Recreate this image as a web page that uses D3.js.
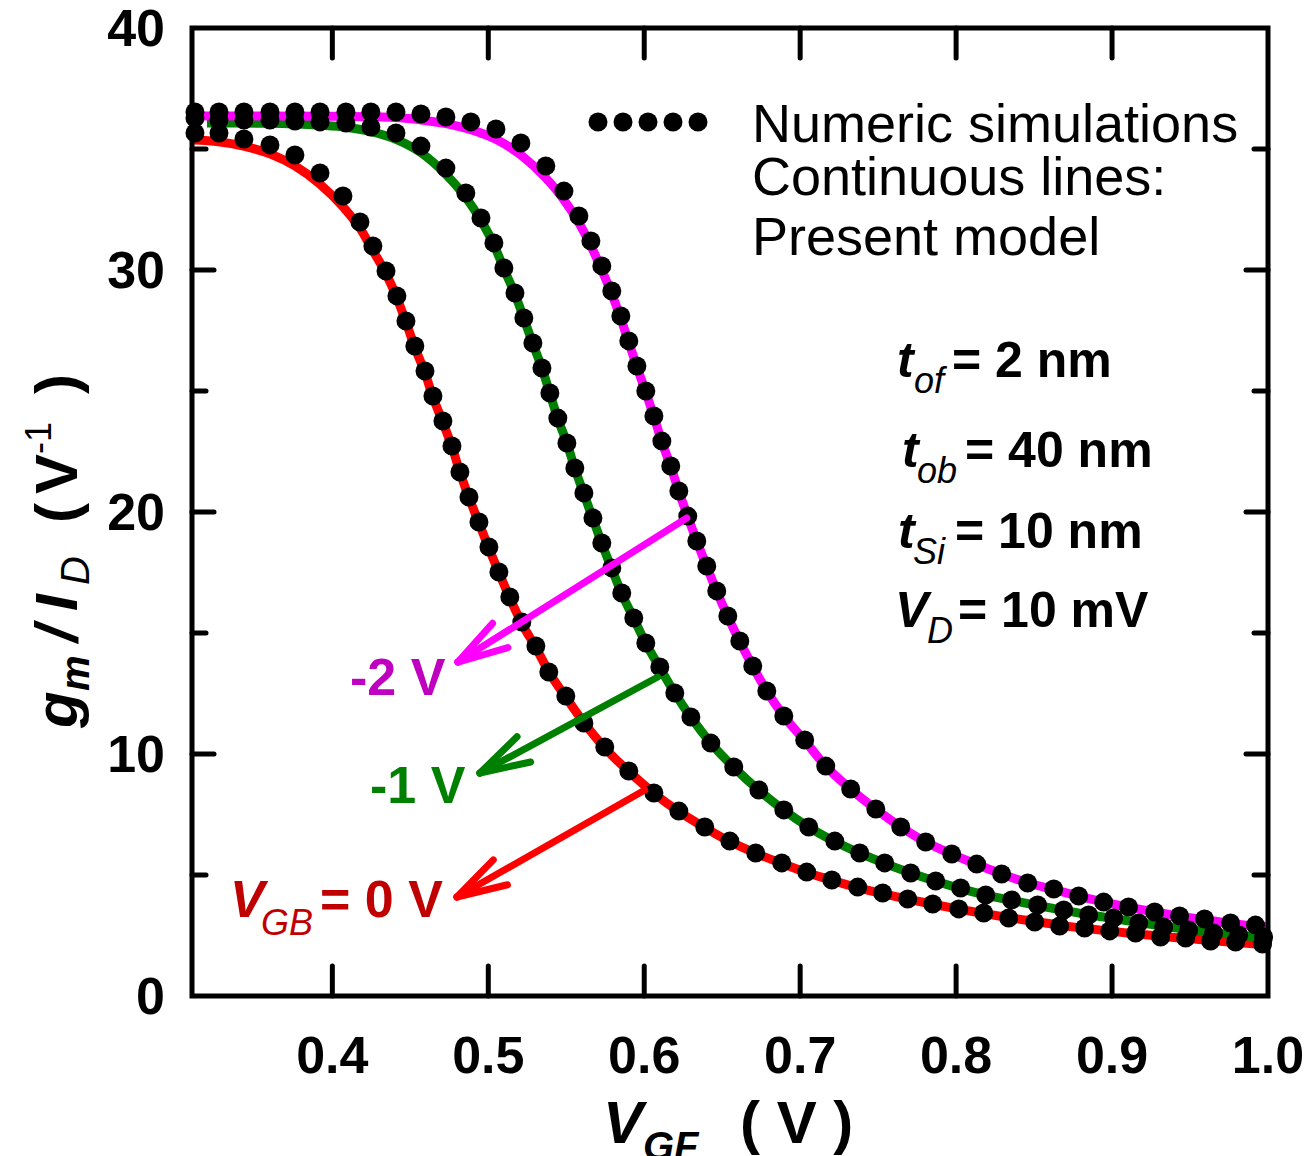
<!DOCTYPE html>
<html>
<head>
<meta charset="utf-8">
<title>gm/ID vs VGF</title>
<style>
  body { margin: 0; background: #fff; }
  text { font-family: "Liberation Sans", Arial, Helvetica, sans-serif; }
</style>
</head>
<body>
<svg width="1308" height="1156"></svg>
<script src="https://d3js.org/d3.v7.min.js"></script>
<script>

// numeric simulation points [VGF (V), gm/ID (1/V)]
var sim0V = [[0.3119,35.66],[0.3273,35.66],[0.3433,35.41],[0.36,35.17],[0.376,34.75],[0.3921,34.01],[0.4068,33.06],
  [0.4177,31.98],[0.426,30.99],[0.4344,29.96],[0.4414,28.93],[0.4472,27.89],[0.4529,26.86],[0.4594,25.83],[0.4645,24.79],
  [0.4709,23.76],[0.4767,22.73],[0.4818,21.65],[0.4876,20.62],[0.494,19.59],[0.5004,18.55],[0.5068,17.52],[0.5138,16.49],
  [0.5215,15.45],[0.5305,14.46],[0.5388,13.39],[0.5497,12.4],[0.5613,11.28],[0.5747,10.29],[0.5901,9.3],[0.6062,8.39],
  [0.6222,7.64],[0.6388,6.98],[0.6549,6.4],[0.6715,5.91],[0.6882,5.5],[0.7042,5.12],[0.7203,4.79],[0.7369,4.5],
  [0.7529,4.26],[0.769,4.01],[0.785,3.8],[0.8017,3.6],[0.8177,3.43],[0.8337,3.22],[0.8504,3.06],[0.8664,2.89],
  [0.8824,2.81],[0.8985,2.69],[0.9151,2.6],[0.9311,2.44],[0.9472,2.4],[0.9632,2.27],[0.9792,2.23],[0.9965,2.15]];

var sim1V = [[0.3119,36.28],[0.3273,36.2],[0.3433,36.2],[0.36,36.2],[0.376,36.16],[0.3921,36.12],[0.4087,36.07],
  [0.4247,35.91],[0.4408,35.66],[0.4568,35.12],[0.4728,34.21],[0.4856,33.18],[0.4953,32.15],[0.5036,31.12],[0.51,30.08],
  [0.5171,29.05],[0.5228,28.02],[0.5286,26.98],[0.5344,25.95],[0.5395,24.92],[0.5446,23.88],[0.5504,22.85],[0.5555,21.82],
  [0.5613,20.79],[0.5671,19.75],[0.5728,18.72],[0.5792,17.69],[0.5856,16.65],[0.5933,15.62],[0.601,14.59],[0.61,13.6],
  [0.6196,12.52],[0.6299,11.53],[0.6427,10.45],[0.6574,9.46],[0.6735,8.51],[0.6895,7.69],[0.7055,6.98],[0.7222,6.4],
  [0.7382,5.91],[0.7542,5.5],[0.7709,5.08],[0.7869,4.75],[0.8029,4.46],[0.819,4.17],[0.8356,3.97],[0.8523,3.76],
  [0.869,3.55],[0.885,3.35],[0.901,3.22],[0.9171,3.02],[0.9331,2.85],[0.9491,2.73],[0.9651,2.6],[0.9812,2.52],[0.9972,2.44]];

var sim2V = [[0.3119,36.53],[0.3273,36.53],[0.3433,36.53],[0.36,36.53],[0.376,36.53],[0.3921,36.53],[0.4087,36.53],
  [0.4247,36.53],[0.4408,36.53],[0.4568,36.45],[0.4728,36.32],[0.4888,36.12],[0.5049,35.83],[0.5209,35.25],[0.5369,34.3],
  [0.5485,33.26],[0.5581,32.23],[0.5658,31.2],[0.5728,30.17],[0.5792,29.13],[0.585,28.1],[0.5901,27.07],[0.5953,26.03],
  [0.601,25.0],[0.6062,23.97],[0.6113,22.93],[0.617,21.9],[0.6222,20.87],[0.6279,19.83],[0.6337,18.8],[0.6401,17.77],
  [0.6465,16.74],[0.6536,15.7],[0.6613,14.67],[0.6696,13.64],[0.6786,12.6],[0.6895,11.57],[0.7029,10.58],[0.7164,9.5],
  [0.7324,8.55],[0.7485,7.73],[0.7645,6.98],[0.7805,6.36],[0.7972,5.87],[0.8132,5.45],[0.8292,5.04],[0.8459,4.67],
  [0.8626,4.42],[0.8786,4.13],[0.8946,3.88],[0.9106,3.68],[0.9273,3.47],[0.9433,3.31],[0.9593,3.18],[0.976,3.02],[0.992,2.93]];

// present model (continuous lines)
var model0V = [[0.311,35.37],[0.327,35.3],[0.343,35.12],[0.36,34.8],[0.376,34.3],[0.392,33.55],[0.407,32.6],[0.418,31.7],
  [0.426,30.8],[0.4344,29.85],[0.4414,28.85],[0.4472,27.85],[0.4529,26.8],[0.4594,25.75],[0.4645,24.75],[0.4709,23.7],
  [0.4767,22.7],[0.4818,21.65],[0.4876,20.6],[0.494,19.55],[0.5004,18.5],[0.5068,17.5],[0.5138,16.45],[0.5215,15.4],
  [0.5305,14.4],[0.5388,13.4],[0.5497,12.35],[0.5613,11.3],[0.5747,10.25],[0.5901,9.28],[0.6062,8.38],[0.6222,7.62],
  [0.6388,6.96],[0.6549,6.38],[0.6715,5.9],[0.6882,5.48],[0.7042,5.1],[0.7203,4.78],[0.7369,4.48],[0.7529,4.23],
  [0.769,4.0],[0.785,3.79],[0.8017,3.59],[0.8177,3.41],[0.8337,3.24],[0.8504,3.08],[0.8664,2.93],[0.8824,2.8],
  [0.8985,2.68],[0.9151,2.57],[0.9311,2.47],[0.9472,2.38],[0.9632,2.29],[0.9792,2.21],[1.0,2.12]];

var model1V = [[0.3196,36.07],[0.3433,36.07],[0.36,36.06],[0.376,36.03],[0.392,35.98],[0.4087,35.9],[0.4247,35.72],
  [0.4408,35.4],[0.4568,34.85],[0.4728,33.95],[0.4856,33.0],[0.4953,32.05],[0.5036,31.05],[0.51,30.05],[0.5171,29.0],
  [0.5228,28.0],[0.5286,26.95],[0.5344,25.95],[0.5395,24.9],[0.5446,23.85],[0.5504,22.85],[0.5555,21.8],[0.5613,20.75],
  [0.5671,19.72],[0.5728,18.7],[0.5792,17.65],[0.5856,16.62],[0.5933,15.6],[0.601,14.57],[0.61,13.57],[0.6196,12.52],
  [0.6299,11.52],[0.6427,10.45],[0.6574,9.45],[0.6735,8.5],[0.6895,7.68],[0.7055,6.98],[0.7222,6.38],[0.7382,5.9],
  [0.7542,5.48],[0.7709,5.08],[0.7869,4.74],[0.8029,4.44],[0.819,4.17],[0.8356,3.95],[0.8523,3.74],[0.869,3.54],
  [0.885,3.36],[0.901,3.2],[0.9171,3.04],[0.9331,2.88],[0.9491,2.75],[0.9651,2.62],[0.9812,2.51],[1.0,2.4]];

var model2V = [[0.311,36.36],[0.35,36.36],[0.4,36.35],[0.4408,36.3],[0.4568,36.2],[0.4728,36.05],[0.4888,35.8],
  [0.5049,35.4],[0.5209,34.75],[0.5369,33.8],[0.5485,32.9],[0.5581,31.95],[0.5658,31.0],[0.5728,30.0],[0.5792,29.0],
  [0.585,28.0],[0.5901,27.0],[0.5953,26.0],[0.601,24.95],[0.6062,23.95],[0.6113,22.9],[0.617,21.88],[0.6222,20.85],
  [0.6279,19.82],[0.6337,18.8],[0.6401,17.75],[0.6465,16.72],[0.6536,15.68],[0.6613,14.65],[0.6696,13.62],[0.6786,12.6],
  [0.6895,11.57],[0.7029,10.55],[0.7164,9.5],[0.7324,8.55],[0.7485,7.72],[0.7645,6.98],[0.7805,6.36],[0.7972,5.86],
  [0.8132,5.44],[0.8292,5.04],[0.8459,4.68],[0.8626,4.4],[0.8786,4.13],[0.8946,3.88],[0.9106,3.67],[0.9273,3.47],
  [0.9433,3.3],[0.9593,3.15],[0.976,3.0],[1.0,2.85]];

// arrows [from, to] in data units
var arrow0V = [[0.6004, 8.51], [0.4799, 4.09]];
var arrow1V = [[0.6087, 13.18], [0.4946, 9.21]];
var arrow2V = [[0.6273, 19.75], [0.4805, 13.80]];

var xTicks = [0.4, 0.5, 0.6, 0.7, 0.8, 0.9, 1.0];
var xTickLabels = ["0.4", "0.5", "0.6", "0.7", "0.8", "0.9", "1.0"];
var yTicks = [0, 10, 20, 30, 40];
var yMinor = [5, 15, 25, 35];

var svg = d3.select("svg");

var x = d3.scaleLinear().domain([0.31, 1.0]).range([192, 1268]);
var y = d3.scaleLinear().domain([0, 40]).range([996, 28]);

var line = d3.line()
  .x(function (d) { return x(d[0]); })
  .y(function (d) { return y(d[1]); })
  .curve(d3.curveMonotoneX);

var series = [
  { model: model0V, sim: sim0V, color: "#ff0000" },
  { model: model1V, sim: sim1V, color: "#008000" },
  { model: model2V, sim: sim2V, color: "#ff00ff" }
];

svg.append("rect").attr("width", 1308).attr("height", 1156).attr("fill", "#fff");

// model lines
svg.append("g").selectAll("path")
  .data(series)
  .enter().append("path")
  .attr("d", function (d) { return line(d.model); })
  .attr("fill", "none")
  .attr("stroke", function (d) { return d.color; })
  .attr("stroke-width", 9);

// simulation dots
svg.append("g").selectAll("g")
  .data(series)
  .enter().append("g")
  .selectAll("circle")
  .data(function (d) { return d.sim; })
  .enter().append("circle")
  .attr("cx", function (d) { return x(d[0]); })
  .attr("cy", function (d) { return y(d[1]); })
  .attr("r", 9.5)
  .attr("fill", "#000");

// frame + inward ticks
var axes = svg.append("g").attr("stroke", "#000").attr("stroke-linecap", "round");
axes.append("rect")
  .attr("x", x(0.31)).attr("y", y(40))
  .attr("width", x(1.0) - x(0.31)).attr("height", y(0) - y(40))
  .attr("fill", "none").attr("stroke-width", 5).attr("stroke-linecap", "square");

var xIn = xTicks.filter(function (d) { return d < 1.0; });
axes.selectAll(".xb").data(xIn).enter().append("line")
  .attr("x1", x).attr("x2", x).attr("y1", y(0)).attr("y2", y(0) - 30).attr("stroke-width", 5);
axes.selectAll(".xt").data(xIn).enter().append("line")
  .attr("x1", x).attr("x2", x).attr("y1", y(40)).attr("y2", y(40) + 30).attr("stroke-width", 5);

var yIn = yTicks.filter(function (d) { return d > 0 && d < 40; });
[[x(0.31), 1], [x(1.0), -1]].forEach(function (s) {
  axes.selectAll(null).data(yIn).enter().append("line")
    .attr("x1", s[0]).attr("x2", s[0] + s[1] * 22)
    .attr("y1", y).attr("y2", y).attr("stroke-width", 5);
  axes.selectAll(null).data(yMinor).enter().append("line")
    .attr("x1", s[0]).attr("x2", s[0] + s[1] * 14)
    .attr("y1", y).attr("y2", y).attr("stroke-width", 5);
});

// tick labels
svg.append("g").selectAll("text")
  .data(xTicks)
  .enter().append("text")
  .attr("x", x).attr("y", 1073)
  .attr("text-anchor", "middle")
  .attr("font-size", 52).attr("font-weight", "bold")
  .text(function (d, i) { return xTickLabels[i]; });

svg.append("g").selectAll("text")
  .data(yTicks)
  .enter().append("text")
  .attr("x", 165).attr("y", function (d) { return y(d) + 18; })
  .attr("text-anchor", "end")
  .attr("font-size", 52).attr("font-weight", "bold")
  .text(function (d) { return d; });

// arrows
function arrow(a, color) {
  var x1 = x(a[0][0]), y1 = y(a[0][1]), x2 = x(a[1][0]), y2 = y(a[1][1]);
  var ang = Math.atan2(y1 - y2, x1 - x2);
  var g = svg.append("g").attr("stroke", color).attr("stroke-width", 7)
    .attr("stroke-linecap", "round").attr("fill", "none");
  g.append("line").attr("x1", x1).attr("y1", y1).attr("x2", x2).attr("y2", y2);
  [-1, 1].forEach(function (s) {
    var b = ang + s * 16 * Math.PI / 180;
    g.append("line").attr("x1", x2).attr("y1", y2)
      .attr("x2", x2 + 52 * Math.cos(b)).attr("y2", y2 + 52 * Math.sin(b));
  });
}
arrow(arrow2V, "#ff00ff");
arrow(arrow1V, "#008000");
arrow(arrow0V, "#ff0000");

// curve labels
svg.append("text").attr("x", 350).attr("y", 695)
  .attr("font-size", 52).attr("font-weight", "bold").attr("fill", "#c000c0").text("-2 V");
svg.append("text").attr("x", 370).attr("y", 803)
  .attr("font-size", 52).attr("font-weight", "bold").attr("fill", "#008000").text("-1 V");
var vgb = svg.append("text").attr("y", 917).attr("font-size", 52).attr("font-weight", "bold").attr("fill", "#c00000");
vgb.append("tspan").attr("x", 230).attr("font-style", "italic").text("V");
vgb.append("tspan").attr("x", 261).attr("dy", 18).attr("font-size", 36).attr("font-weight", "normal")
  .attr("font-style", "italic").text("GB");
vgb.append("tspan").attr("x", 320).attr("dy", -18).text("= 0 V");

// legend
svg.append("g").selectAll("circle")
  .data([0, 1, 2, 3, 4])
  .enter().append("circle")
  .attr("cx", function (d) { return 598 + d * 25; })
  .attr("cy", 122).attr("r", 9.5).attr("fill", "#000");
var legendLines = [["Numeric simulations", 142], ["Continuous lines:", 195], ["Present model", 255]];
svg.append("g").selectAll("text")
  .data(legendLines)
  .enter().append("text")
  .attr("x", 752).attr("y", function (d) { return d[1]; })
  .attr("font-size", 54)
  .text(function (d) { return d[0]; });

// device parameters
var params = [
  { sym: "t", sub: "of", rest: "= 2 nm", x: 897, subX: 914, eqX: 952, y: 377 },
  { sym: "t", sub: "ob", rest: "= 40 nm", x: 902, subX: 917, eqX: 965, y: 467 },
  { sym: "t", sub: "Si", rest: "= 10 nm", x: 898, subX: 913, eqX: 955, y: 548 },
  { sym: "V", sub: "D", rest: "= 10 mV", x: 895, subX: 927, eqX: 958, y: 627 }
];
params.forEach(function (p) {
  var t = svg.append("text").attr("y", p.y).attr("font-size", 50).attr("font-weight", "bold");
  t.append("tspan").attr("x", p.x).attr("font-style", "italic").text(p.sym);
  t.append("tspan").attr("x", p.subX).attr("dy", 16).attr("font-size", 36)
    .attr("font-weight", "normal").attr("font-style", "italic").text(p.sub);
  t.append("tspan").attr("x", p.eqX).attr("dy", -16).text(p.rest);
});

// axis titles
var xt = svg.append("text").attr("y", 1143).attr("font-size", 60).attr("font-weight", "bold");
xt.append("tspan").attr("x", 603).attr("font-style", "italic").text("V");
xt.append("tspan").attr("x", 643).attr("dy", 17).attr("font-size", 40).attr("font-style", "italic").text("GF");
xt.append("tspan").attr("x", 740).attr("dy", -17).text("( V )");

var yt = svg.append("text")
  .attr("transform", "translate(77,728) rotate(-90)")
  .attr("font-size", 60).attr("font-weight", "bold");
yt.append("tspan").attr("x", 0).attr("font-style", "italic").text("g");
yt.append("tspan").attr("x", 37).attr("dy", 12).attr("font-size", 40).attr("font-style", "italic").text("m");
yt.append("tspan").attr("x", 86).attr("dy", -12).attr("font-style", "italic").text("/");
yt.append("tspan").attr("x", 117).attr("font-style", "italic").text("I");
yt.append("tspan").attr("x", 143).attr("dy", 12).attr("font-size", 40)
  .attr("font-weight", "normal").attr("font-style", "italic").text("D");
yt.append("tspan").attr("x", 205).attr("dy", -12).text("(");
yt.append("tspan").attr("x", 234).text("V");
yt.append("tspan").attr("x", 274).attr("dy", -26).attr("font-size", 36).attr("font-weight", "normal").text("-1");
yt.append("tspan").attr("x", 334).attr("dy", 26).text(")");

</script>
</body>
</html>
